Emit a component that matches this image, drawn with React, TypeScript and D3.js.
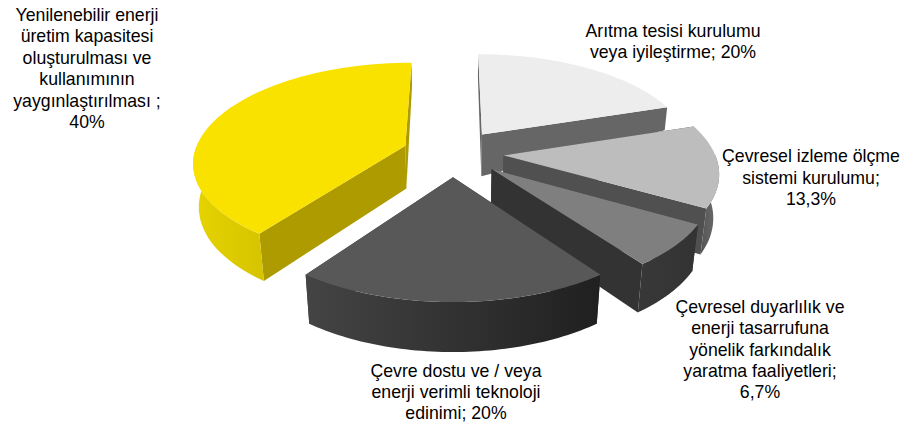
import React from "react";
import * as d3 from "d3";

const categories = [
  "Arıtma tesisi kurulumu veya iyileştirme",
  "Çevresel izleme ölçme sistemi kurulumu",
  "Çevresel duyarlılık ve enerji tasarrufuna yönelik farkındalık yaratma faaliyetleri",
  "Çevre dostu ve / veya enerji verimli teknoloji edinimi",
  "Yenilenebilir enerji üretim kapasitesi oluşturulması ve kullanımının yaygınlaştırılması",
];
const values = [20, 13.3, 6.7, 20, 40];
const valueLabels = ["20%", "13,3%", "6,7%", "20%", "40%"];
const topColors = ["#EDEDED", "#BDBDBD", "#7F7F7F", "#585858", "#F9E100"];
const faceColors = ["#666666", "#505050", "#333333", "#404040", "#AD9B00"];
const arcFrom = ["#777777", "#555555", "#383838", "#444444", "#E6D300"];
const arcTo = ["#666666", "#6E6E6E", "#333333", "#202020", "#D6C400"];
const drawOrder = [0, 1, 2, 4, 3];
const labelLines = [
  ["Arıtma tesisi kurulumu", "veya iyileştirme; 20%"],
  ["Çevresel izleme ölçme", "sistemi kurulumu;", "13,3%"],
  ["Çevresel duyarlılık ve", "enerji tasarrufuna", "yönelik farkındalık", "yaratma faaliyetleri;", "6,7%"],
  ["Çevre dostu ve / veya", "enerji verimli teknoloji", "edinimi; 20%"],
  ["Yenilenebilir enerji", "üretim kapasitesi", "oluşturulması ve", "kullanımının", "yaygınlaştırılması ;", "40%"],
];
const labelX = [673, 811, 760, 456, 87];
const labelY = [37, 162, 313, 377, 20.5];
const lineStep = [21, 21.5, 21.3, 21, 21.5];

const cx = 453, cy = 153, rx = 211, ry = 97.7, persp = 0.151, explode = 0.24;
const depth = d3.scaleLinear().domain([-0.5, -0.19, 1.24]).range([23, 42, 50]).clamp(true);
const shrink = d3.scaleLinear().domain([0, 50]).range([1, 0.975]);

type P = [number, number];
function project(u: number, v: number, bottom: boolean): P {
  const s = 1 / (1 - persp * v);
  const h = bottom ? depth(v) : 0;
  const f = shrink(h);
  return [cx + u * rx * s * f, cy + v * ry * s + h];
}

export default function App() {
  const arcs = d3.pie<number>().sort(null).startAngle(0).endAngle(2 * Math.PI)(values);
  const line = d3.line();
  const slices = drawOrder.map((i) => {
    const a = arcs[i];
    const mid = (a.startAngle + a.endAngle) / 2;
    const ou = explode * Math.sin(mid), ov = -explode * Math.cos(mid);
    const pt = (t: number, r: number, bottom: boolean) =>
      project(ou + r * Math.sin(t), ov - r * Math.cos(t), bottom);
    const ts = d3.range(0, 61).map((k) => a.startAngle + ((a.endAngle - a.startAngle) * k) / 60);
    const top = [pt(0, 0, false), ...ts.map((t) => pt(t, 1, false))];
    const radial = (t: number) => [pt(t, 0, false), pt(t, 1, false), pt(t, 1, true), pt(t, 0, true)];
    const front = ts.filter((t) => t >= Math.PI / 2 - 0.02 && t <= (3 * Math.PI) / 2 + 0.02);
    const outer = front.length > 1
      ? [...front.map((t) => pt(t, 1, false)), ...[...front].reverse().map((t) => pt(t, 1, true))]
      : null;
    return { i, top, f1: radial(a.startAngle), f2: radial(a.endAngle), outer };
  });
  return (
    <svg width={912} height={425} style={{ position: "absolute", left: 0, top: 0 }}
      fontFamily="'Liberation Sans', Arial, sans-serif" fontSize={17.7}>
      <defs>
        {values.map((_, i) => (
          <linearGradient key={i} id={`g${i}`} x1="0" x2="1" y1="0" y2="0">
            <stop offset="0" stopColor={arcFrom[i]} />
            <stop offset="1" stopColor={arcTo[i]} />
          </linearGradient>
        ))}
      </defs>
      {slices.map(({ i, top, f1, f2, outer }) => (
        <g key={i} data-category={categories[i]} data-value={valueLabels[i]}>
          <path d={line(f1 as P[])! + "Z"} fill={faceColors[i]} />
          <path d={line(f2 as P[])! + "Z"} fill={faceColors[i]} />
          {outer && <path d={line(outer as P[])! + "Z"} fill={`url(#g${i})`} />}
          <path d={line(top as P[])! + "Z"} fill={topColors[i]} />
        </g>
      ))}
      {labelLines.map((lines, i) => (
        <text key={i} textAnchor="middle" fill="#000">
          {lines.map((l, k) => (
            <tspan key={k} x={labelX[i]} y={labelY[i] + k * lineStep[i]}>{l}</tspan>
          ))}
        </text>
      ))}
    </svg>
  );
}
